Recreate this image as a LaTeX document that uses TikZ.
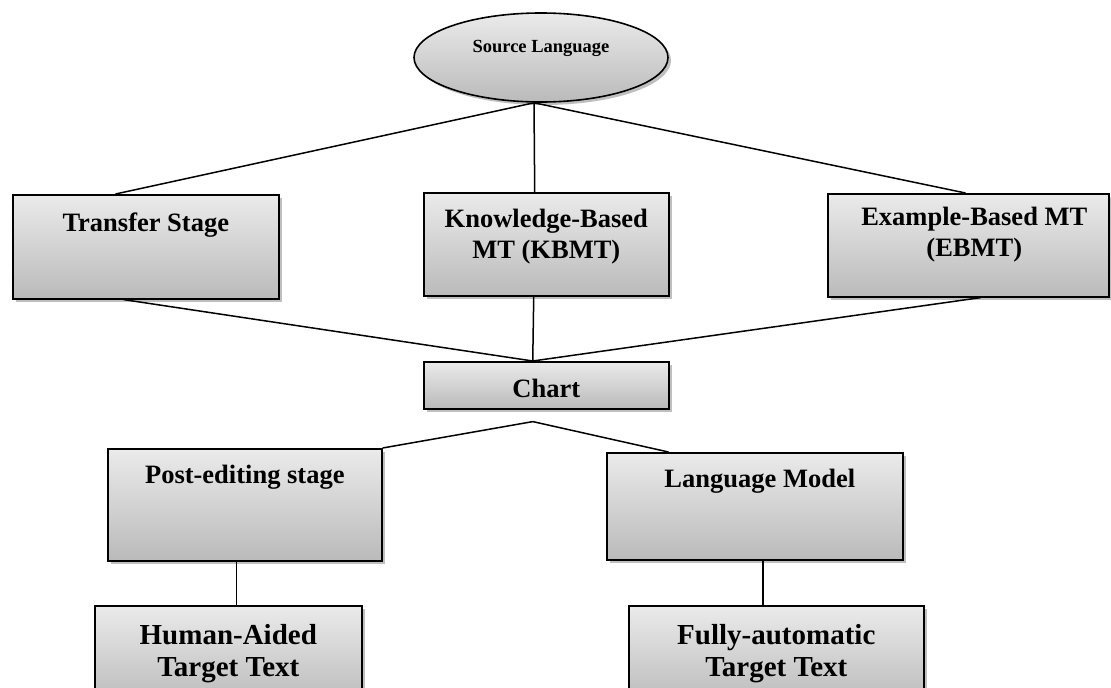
\documentclass[tikz,border=0pt]{standalone}
\usepackage{fontspec}
\setmainfont{Liberation Serif}
\usetikzlibrary{shapes.geometric,shadows,calc}
\begin{document}
\begin{tikzpicture}[x=1pt,y=-1pt,
  boxshape/.style={draw=black, line width=1.6pt, top color=black!8, bottom color=black!27,
    drop shadow={opacity=0.5, shadow xshift=3pt, shadow yshift=-3pt},
    inner sep=0pt, anchor=north west},
  lbl/.style={font=\bfseries\fontsize{26.5}{31}\selectfont, align=center, anchor=base, inner sep=0pt},
  lblb/.style={font=\bfseries\fontsize{29}{32.7}\selectfont, align=center, anchor=base, inner sep=0pt},
  conn/.style={line width=1.5pt, draw=black}]
\useasboundingbox (0,0) rectangle (1111,688);

% top ellipse
\node[ellipse, draw=black, line width=1.6pt, top color=black!8, bottom color=black!27,
  drop shadow={opacity=0.5, shadow xshift=3pt, shadow yshift=-3pt},
  minimum width=254pt, minimum height=89pt, inner sep=0pt] (src) at (541,57.5) {};
\node[font=\bfseries\fontsize{18.5}{22}\selectfont, anchor=base, inner sep=0pt] (srct) at ([yshift=4.8pt]src.center) {Source Language};

% second row
\node[boxshape, minimum width=266pt, minimum height=104pt] (ts) at (12,194) {};
\node[lbl] (tst) at ([yshift=-37pt]ts.north) {Transfer Stage};

\node[boxshape, minimum width=245pt, minimum height=103pt] (kb) at (423,192) {};
\node[lbl] (kbt) at ([yshift=-66pt]kb.north) {Knowledge-Based\\MT (KBMT)};

\node[boxshape, minimum width=281pt, minimum height=103pt] (eb) at (827,193) {};
\node[lbl] (ebt) at ([xshift=6pt,yshift=-63.7pt]eb.north) {Example-Based MT\\(EBMT)};

% chart
\node[boxshape, minimum width=245pt, minimum height=47pt] (ch) at (423,361) {};
\node[lbl] (cht) at ([yshift=-36pt]ch.north) {Chart};

% third row
\node[boxshape, minimum width=274pt, minimum height=112pt] (pe) at (107,448) {};
\node[lbl] (pet) at ([yshift=-35pt]pe.north) {Post-editing stage};

\node[boxshape, minimum width=296pt, minimum height=107pt] (lm) at (606,452) {};
\node[lbl] (lmt) at ([xshift=5pt,yshift=-35pt]lm.north) {Language Model};

% bottom row
\node[boxshape, minimum width=267pt, minimum height=100pt] (ha) at (94,605) {};
\node[lblb] (hat) at ([yshift=-71.7pt]ha.north) {Human-Aided\\Target Text};

\node[boxshape, minimum width=295pt, minimum height=100pt] (fa) at (628,605) {};
\node[lblb] (fat) at ([yshift=-71.7pt]fa.north) {Fully-automatic\\Target Text};

% connectors
\coordinate (j1) at ([xshift=-7pt]src.south);
\draw[conn] (j1) -- ($(ts.north west)!0.387!(ts.north east)$);
\draw[conn] (j1) -- ($(kb.north west)!0.453!(kb.north east)$);
\draw[conn] (j1) -- ($(eb.north west)!0.49!(eb.north east)$);

\coordinate (j3) at ($(ch.north west)!0.445!(ch.north east)$);
\draw[conn] ($(ts.south west)!0.417!(ts.south east)$) -- (j3);
\draw[conn] ($(kb.south west)!0.449!(kb.south east)$) -- (j3);
\draw[conn] ($(eb.south west)!0.544!(eb.south east)$) -- (j3);

\coordinate (j2) at ([xshift=-13.5pt,yshift=-12pt]ch.south);
\draw[conn] (j2) -- (pe.north east);
\draw[conn] (j2) -- ($(lm.north west)!0.21!(lm.north east)$);

\coordinate (pv) at ($(pe.south west)!0.47!(pe.south east)$);
\draw[conn] (pv) -- (pv |- ha.north);
\coordinate (lv) at ($(lm.south west)!0.527!(lm.south east)$);
\draw[conn] (lv) -- (lv |- fa.north);
\end{tikzpicture}
\end{document}
